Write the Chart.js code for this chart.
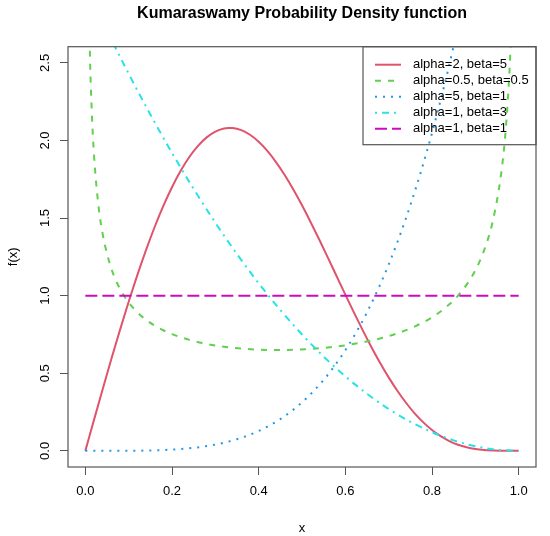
<!DOCTYPE html>
<html>
<head>
<meta charset="utf-8">
<script src="https://cdn.jsdelivr.net/npm/chart.js@4.4.1/dist/chart.umd.min.js"></script>
<style>
  html, body { margin: 0; padding: 0; background: #fff; }
</style>
</head>
<body>
<canvas id="chart" width="550" height="536"></canvas>
<script>
// values
const redX = [0, 0.02, 0.04, 0.06, 0.08, 0.10, 0.12, 0.14, 0.16, 0.18, 0.20, 0.22, 0.24, 0.26, 0.28, 0.30, 0.32, 0.33, 0.34, 0.36, 0.38, 0.40, 0.42, 0.44, 0.46, 0.48, 0.50, 0.52, 0.54, 0.56, 0.58, 0.60, 0.62, 0.64, 0.66, 0.68, 0.70, 0.72, 0.74, 0.76, 0.78, 0.80, 0.82, 0.84, 0.86, 0.88, 0.90, 0.92, 0.94, 0.96, 0.98, 1.00];
const redY = [0, 0.1997, 0.3974, 0.5914, 0.7797, 0.9606, 1.1324, 1.2934, 1.4423, 1.5778, 1.6987, 1.8040, 1.8930, 1.9651, 2.0199, 2.0573, 2.0773, 2.0807, 2.0800, 2.0663, 2.0365, 1.9915, 1.9325, 1.8606, 1.7772, 1.6838, 1.5820, 1.4734, 1.3599, 1.2431, 1.1248, 1.0066, 0.8904, 0.7777, 0.6697, 0.5681, 0.4736, 0.3873, 0.3100, 0.2419, 0.1834, 0.1344, 0.0944, 0.0631, 0.0395, 0.0228, 0.0117, 0.0051, 0.0017, 0.0004, 0.00002, 0];

const greenX = [0.005, 0.01, 0.015, 0.02, 0.03, 0.04, 0.06, 0.08, 0.10, 0.12, 0.14, 0.16, 0.18, 0.20, 0.24, 0.28, 0.32, 0.36, 0.40, 0.44, 0.48, 0.52, 0.56, 0.60, 0.64, 0.68, 0.72, 0.76, 0.80, 0.84, 0.86, 0.88, 0.90, 0.92, 0.94, 0.96, 0.97, 0.98, 0.985, 0.99];
const greenY = [3.668, 2.635, 2.179, 1.908, 1.587, 1.398, 1.175, 1.044, 0.956, 0.893, 0.845, 0.807, 0.777, 0.752, 0.715, 0.689, 0.671, 0.659, 0.652, 0.650, 0.651, 0.657, 0.666, 0.680, 0.699, 0.724, 0.757, 0.801, 0.860, 0.944, 1.000, 1.071, 1.163, 1.290, 1.477, 1.795, 2.065, 2.519, 2.903, 3.549];

const blueX = [0, 0.05, 0.10, 0.15, 0.20, 0.25, 0.30, 0.35, 0.40, 0.45, 0.50, 0.55, 0.60, 0.65, 0.70, 0.75, 0.80, 0.85, 0.90];
const blueY = [0, 0.00003, 0.0005, 0.0025, 0.008, 0.0195, 0.0405, 0.075, 0.128, 0.205, 0.3125, 0.4575, 0.648, 0.8925, 1.2005, 1.582, 2.048, 2.61, 3.2805];

const cyanX = [0, 0.05, 0.10, 0.15, 0.20, 0.25, 0.30, 0.35, 0.40, 0.45, 0.50, 0.55, 0.60, 0.65, 0.70, 0.75, 0.80, 0.85, 0.90, 0.95, 1.00];
const cyanY = [3, 2.7075, 2.43, 2.1675, 1.92, 1.6875, 1.47, 1.2675, 1.08, 0.9075, 0.75, 0.6075, 0.48, 0.3675, 0.27, 0.1875, 0.12, 0.0675, 0.03, 0.0075, 0];

const magentaX = [0, 1];
const magentaY = [1, 1];

const seriesLabels = ['alpha=2, beta=5', 'alpha=0.5, beta=0.5', 'alpha=5, beta=1', 'alpha=1, beta=3', 'alpha=1, beta=1'];
const xTicks = [0, 0.2, 0.4, 0.6, 0.8, 1.0];
const yTicks = [0, 0.5, 1.0, 1.5, 2.0, 2.5];

const pts = (xs, ys) => xs.map((x, i) => ({ x: x, y: ys[i] }));

const FONT = '"Liberation Sans", Arial, Helvetica, sans-serif';
Chart.defaults.font.family = FONT;
Chart.defaults.color = '#000';

function line(label, data, color, dash, order) {
  return {
    label: label,
    data: data,
    borderColor: color,
    borderWidth: 2,
    borderDash: dash,
    borderCapStyle: 'butt',
    pointRadius: 0,
    cubicInterpolationMode: 'monotone',
    fill: false,
    order: order
  };
}

// box round the plot region + R style legend in the top right corner
const boxAndLegend = {
  id: 'boxAndLegend',
  afterDraw(chart) {
    const ctx = chart.ctx;
    const ca = chart.chartArea;
    ctx.save();
    ctx.strokeStyle = '#555';
    ctx.lineWidth = 1.2;
    ctx.setLineDash([]);
    ctx.strokeRect(ca.left, ca.top, ca.right - ca.left, ca.bottom - ca.top);

    const w = 173, h = 98;
    const left = ca.right - w, top = ca.top;
    ctx.strokeRect(left, top, w, h);
    ctx.font = '13px ' + FONT;
    ctx.textBaseline = 'middle';
    ctx.textAlign = 'left';
    chart.data.datasets.forEach((ds, i) => {
      const y = top + 18 + i * 16;
      ctx.strokeStyle = ds.borderColor;
      ctx.lineWidth = 2;
      ctx.setLineDash(ds.borderDash);
      ctx.beginPath();
      ctx.moveTo(left + 12, y);
      ctx.lineTo(left + 38, y);
      ctx.stroke();
      ctx.fillStyle = '#000';
      ctx.fillText(ds.label, left + 50, y);
    });
    ctx.restore();
  }
};

new Chart(document.getElementById('chart'), {
  type: 'line',
  data: {
    datasets: [
      line(seriesLabels[0], pts(redX, redY), '#DF536B', [], 5),
      line(seriesLabels[1], pts(greenX, greenY), '#61D04F', [6, 7], 4),
      line(seriesLabels[2], pts(blueX, blueY), '#2297E6', [2, 6], 3),
      line(seriesLabels[3], pts(cyanX, cyanY), '#28E2E5', [2, 5, 7, 5], 2),
      line(seriesLabels[4], pts(magentaX, magentaY), '#CD0BBC', [12, 5], 1)
    ]
  },
  options: {
    responsive: false,
    animation: false,
    devicePixelRatio: 1,
    layout: { padding: { left: 0, right: 14, top: 0, bottom: 0 } },
    plugins: {
      legend: { display: false },
      tooltip: { enabled: false },
      title: {
        display: true,
        text: 'Kumaraswamy Probability Density function',
        fullSize: false,
        color: '#000',
        font: { size: 16, weight: 'bold', family: FONT, lineHeight: 1.2 },
        padding: { top: 4, bottom: 23.5 }
      }
    },
    scales: {
      x: {
        type: 'linear',
        position: 'bottom',
        min: -0.04,
        max: 1.04,
        afterBuildTicks: s => { s.ticks = xTicks.map(v => ({ value: v })); },
        afterFit: s => { s.height = 69; },
        border: { display: false },
        grid: { drawOnChartArea: false, drawTicks: true, tickLength: 8, color: '#555', lineWidth: 1 },
        ticks: {
          color: '#000',
          font: { size: 13 },
          padding: 9,
          maxRotation: 0,
          autoSkip: false,
          callback: v => Number(v).toFixed(1)
        },
        title: { display: true, text: 'x', color: '#000', font: { size: 13 }, padding: { top: 0, bottom: 0 } }
      },
      y: {
        type: 'linear',
        min: -0.104,
        max: 2.604,
        afterBuildTicks: s => { s.ticks = yTicks.map(v => ({ value: v })); },
        afterFit: s => { s.width = 68; },
        border: { display: false },
        grid: { drawOnChartArea: false, drawTicks: true, tickLength: 8, color: '#555', lineWidth: 1 },
        ticks: {
          color: '#000',
          font: { size: 13 },
          padding: 6,
          minRotation: 90,
          maxRotation: 90,
          crossAlign: 'center',
          autoSkip: false,
          callback: v => Number(v).toFixed(1)
        },
        title: { display: true, text: 'f(x)', color: '#000', font: { size: 13 }, padding: { top: 6, bottom: 0 } }
      }
    }
  },
  plugins: [boxAndLegend]
});
</script>
</body>
</html>
